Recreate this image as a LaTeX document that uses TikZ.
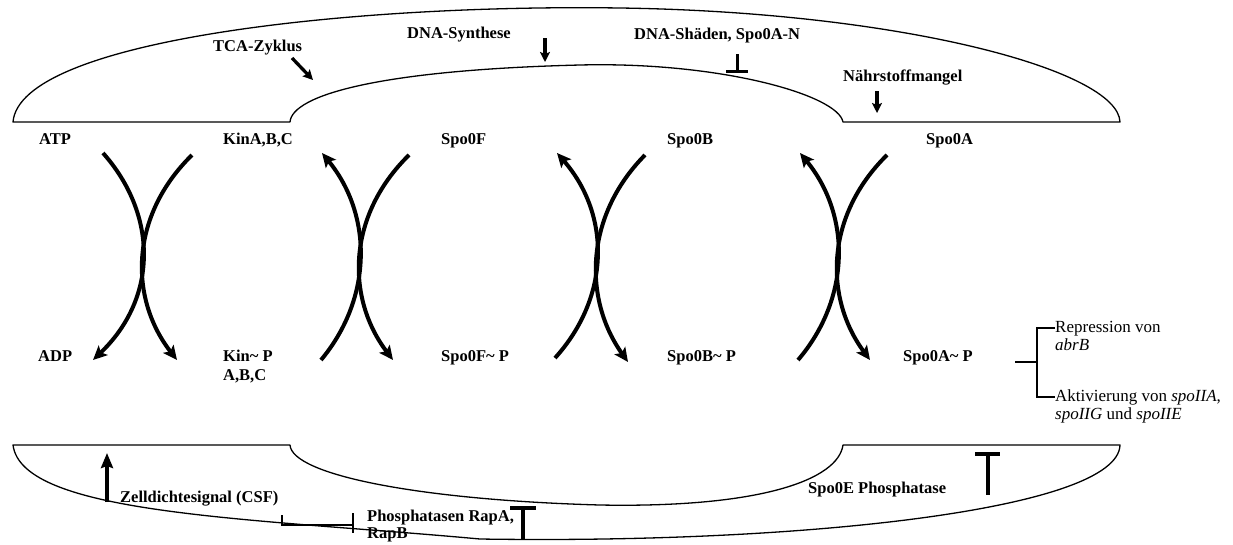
\documentclass[tikz,border=0pt]{standalone}
\usepackage{fontspec}
\setmainfont{Liberation Serif}
\usetikzlibrary{arrows.meta}
\begin{document}
\begin{tikzpicture}[x=1pt,y=-1pt,
  outline/.style={line width=1.3pt, line join=round},
  lbl/.style={font=\fontsize{16.5}{19}\selectfont\bfseries, inner sep=0pt, anchor=base west, align=left},
  note/.style={font=\fontsize{17}{17.5}\selectfont, inner sep=0pt, anchor=base west, align=left},
  swing/.style={line width=4pt},
  swinghead/.style={-{Stealth[length=14pt,width=13pt,inset=3pt]}},
  smallarrow/.style={line width=3.3pt, -{Stealth[length=10pt,width=10pt,inset=2pt]}},
  uparrow/.style={line width=4.5pt, -{Stealth[length=15pt,width=12pt,inset=2pt]}},
  thinline/.style={line width=1.3pt},
  blocker/.style={line width=3pt},
  bigblocker/.style={line width=4.5pt}
]
\path[use as bounding box] (0,0) rectangle (1233,544);

% upper envelope
\draw[outline] (13,122) -- (290,122)
  .. controls (292,95) and (380,70) .. (580,65)
  .. controls (720,61.5) and (838,95) .. (843,122)
  -- (1120,122)
  .. controls (1118,70) and (900,12) .. (620,8)
  .. controls (350,4) and (20,40) .. (13,122) -- cycle;

% lower envelope
\draw[outline] (13,445) -- (290,445)
  .. controls (292,475) and (420,500) .. (600,505)
  .. controls (760,508) and (838,480) .. (843,445)
  -- (1120,445)
  .. controls (1118,510) and (800,544) .. (480,539)
  .. controls (250,518) and (22,515) .. (13,445) -- cycle;

% phosphorelay species
\node[lbl] (atp)   at (39,144)  {ATP};
\node[lbl] (kin)   at (223,144) {KinA,B,C};
\node[lbl] (f)     at (441,144) {Spo0F};
\node[lbl] (b)     at (667,144) {Spo0B};
\node[lbl] (a)     at (926,144) {Spo0A};
\node[lbl] (adp)   at (38,361)  {ADP};
\node[lbl] (kinp)  at (223,380) {Kin\textasciitilde{} P\\A,B,C};
\node[lbl] (fp)    at (441,361) {Spo0F\textasciitilde{} P};
\node[lbl] (bp)    at (667,361) {Spo0B\textasciitilde{} P};
\node[lbl] (ap)    at (903,361) {Spo0A\textasciitilde{} P};

% signals
\node[lbl] (tca)   at (213,51) {TCA-Zyklus};
\node[lbl] (dna)   at (407,38) {DNA-Synthese};
\node[lbl] (dmg)   at (634,39) {DNA-Shäden, Spo0A-N};
\node[lbl] (food)  at (843,81) {Nährstoffmangel};
\node[lbl] (csf)   at (120,502) {Zelldichtesignal (CSF)};
\node[lbl, font=\fontsize{16.5}{16.5}\selectfont\bfseries] (rap) at (367,538) {Phosphatasen RapA,\\RapB};
\node[lbl] (spoe)  at (808,493) {Spo0E Phosphatase};

% targets of Spo0A~P
\node[note] (abrb) at (1055,350) {Repression von\\\textit{abrB}};
\node[note] (spo2) at (1055,419) {Aktivierung von \textit{spoIIA},\\\textit{spoIIG} und \textit{spoIIE}};

% end points of the exchange arcs
\coordinate (p1t1) at (103,153); \coordinate (p1b1) at (93,360);
\coordinate (p1t2) at (192,155); \coordinate (p1b2) at (177,360);
\coordinate (p2t1) at (322,153); \coordinate (p2b1) at (321,360);
\coordinate (p2t2) at (409,155); \coordinate (p2b2) at (393,360);
\coordinate (p3t1) at (557,153); \coordinate (p3b1) at (555,358);
\coordinate (p3t2) at (645,155); \coordinate (p3b2) at (628,362);
\coordinate (p4t1) at (800,153); \coordinate (p4b1) at (798,360);
\coordinate (p4t2) at (887,155); \coordinate (p4b2) at (870,360);

% ATP -> ADP, KinA,B,C -> Kin~P
\draw[swing,swinghead] (p1t1) .. controls (158,215) and (158,298) .. (p1b1);
\draw[swing,swinghead] (p1t2) .. controls (129.2,216.5) and (129.2,298.5) .. (p1b2);
% Kin~P -> KinA,B,C, Spo0F -> Spo0F~P
\draw[swing,swinghead] (p2b1) .. controls (372.8,298) and (372.8,215) .. (p2t1);
\draw[swing,swinghead] (p2t2) .. controls (346.3,216.5) and (346.3,298.5) .. (p2b2);
% Spo0F~P -> Spo0F, Spo0B -> Spo0B~P
\draw[swing,swinghead] (p3b1) .. controls (610.7,296.5) and (610.7,214.5) .. (p3t1);
\draw[swing,swinghead] (p3t2) .. controls (583.8,217) and (583.8,300) .. (p3b2);
% Spo0B~P -> Spo0B, Spo0A -> Spo0A~P
\draw[swing,swinghead] (p4b1) .. controls (851,298) and (851,215) .. (p4t1);
\draw[swing,swinghead] (p4t2) .. controls (824.5,216.5) and (824.5,298.5) .. (p4b2);

% stimulating signals
\coordinate (tcas) at (292,58);  \coordinate (tcae) at (313,80);
\coordinate (dnas) at (545,38);  \coordinate (dnae) at (545,62);
\coordinate (fds)  at (877,91);  \coordinate (fde)  at (877,113);
\coordinate (csfs) at (107,502); \coordinate (csfe) at (107,453);
\draw[smallarrow] (tcas) -- (tcae);
\draw[smallarrow] (dnas) -- (dnae);
\draw[smallarrow] (fds) -- (fde);
\draw[uparrow] (csfs) -- (csfe);

% inhibition by DNA damage
\coordinate (dmgs) at (737,54); \coordinate (dmge) at (737,71);
\coordinate (dmgl) at (726,71); \coordinate (dmgr) at (748,71);
\draw[blocker] (dmgs) -- (dmge);
\draw[blocker] (dmgl) -- (dmgr);

% CSF inhibits the Rap phosphatases
\coordinate (csfk) at (282,515); \coordinate (csfc) at (282,525);
\coordinate (rapb) at (353,525);
\coordinate (rapbt) at (353,513); \coordinate (rapbb) at (353,533);
\draw[thinline] (csfk) -- (csfc) -- (rapb);
\draw[thinline] (rapbt) -- (rapbb);

% phosphatase blockers
\coordinate (t1l) at (510,508); \coordinate (t1r) at (536,508);
\coordinate (t1s) at (523,508); \coordinate (t1e) at (523,540);
\draw[bigblocker] (t1l) -- (t1r);
\draw[bigblocker] (t1s) -- (t1e);
\coordinate (t2l) at (975,454); \coordinate (t2r) at (1000,454);
\coordinate (t2s) at (988,454); \coordinate (t2e) at (988,495);
\draw[bigblocker] (t2l) -- (t2r);
\draw[bigblocker] (t2s) -- (t2e);

% Spo0A~P branches to its targets
\coordinate (aps)  at (1015,362);
\coordinate (fork) at (1037,362);
\coordinate (fup)  at (1037,328);
\coordinate (fdn)  at (1037,397);
\draw[thinline] (aps) -- (fork);
\draw[thinline] (abrb.west |- fup) -- (fup) -- (fdn) -- (spo2.west |- fdn);
\end{tikzpicture}
\end{document}
